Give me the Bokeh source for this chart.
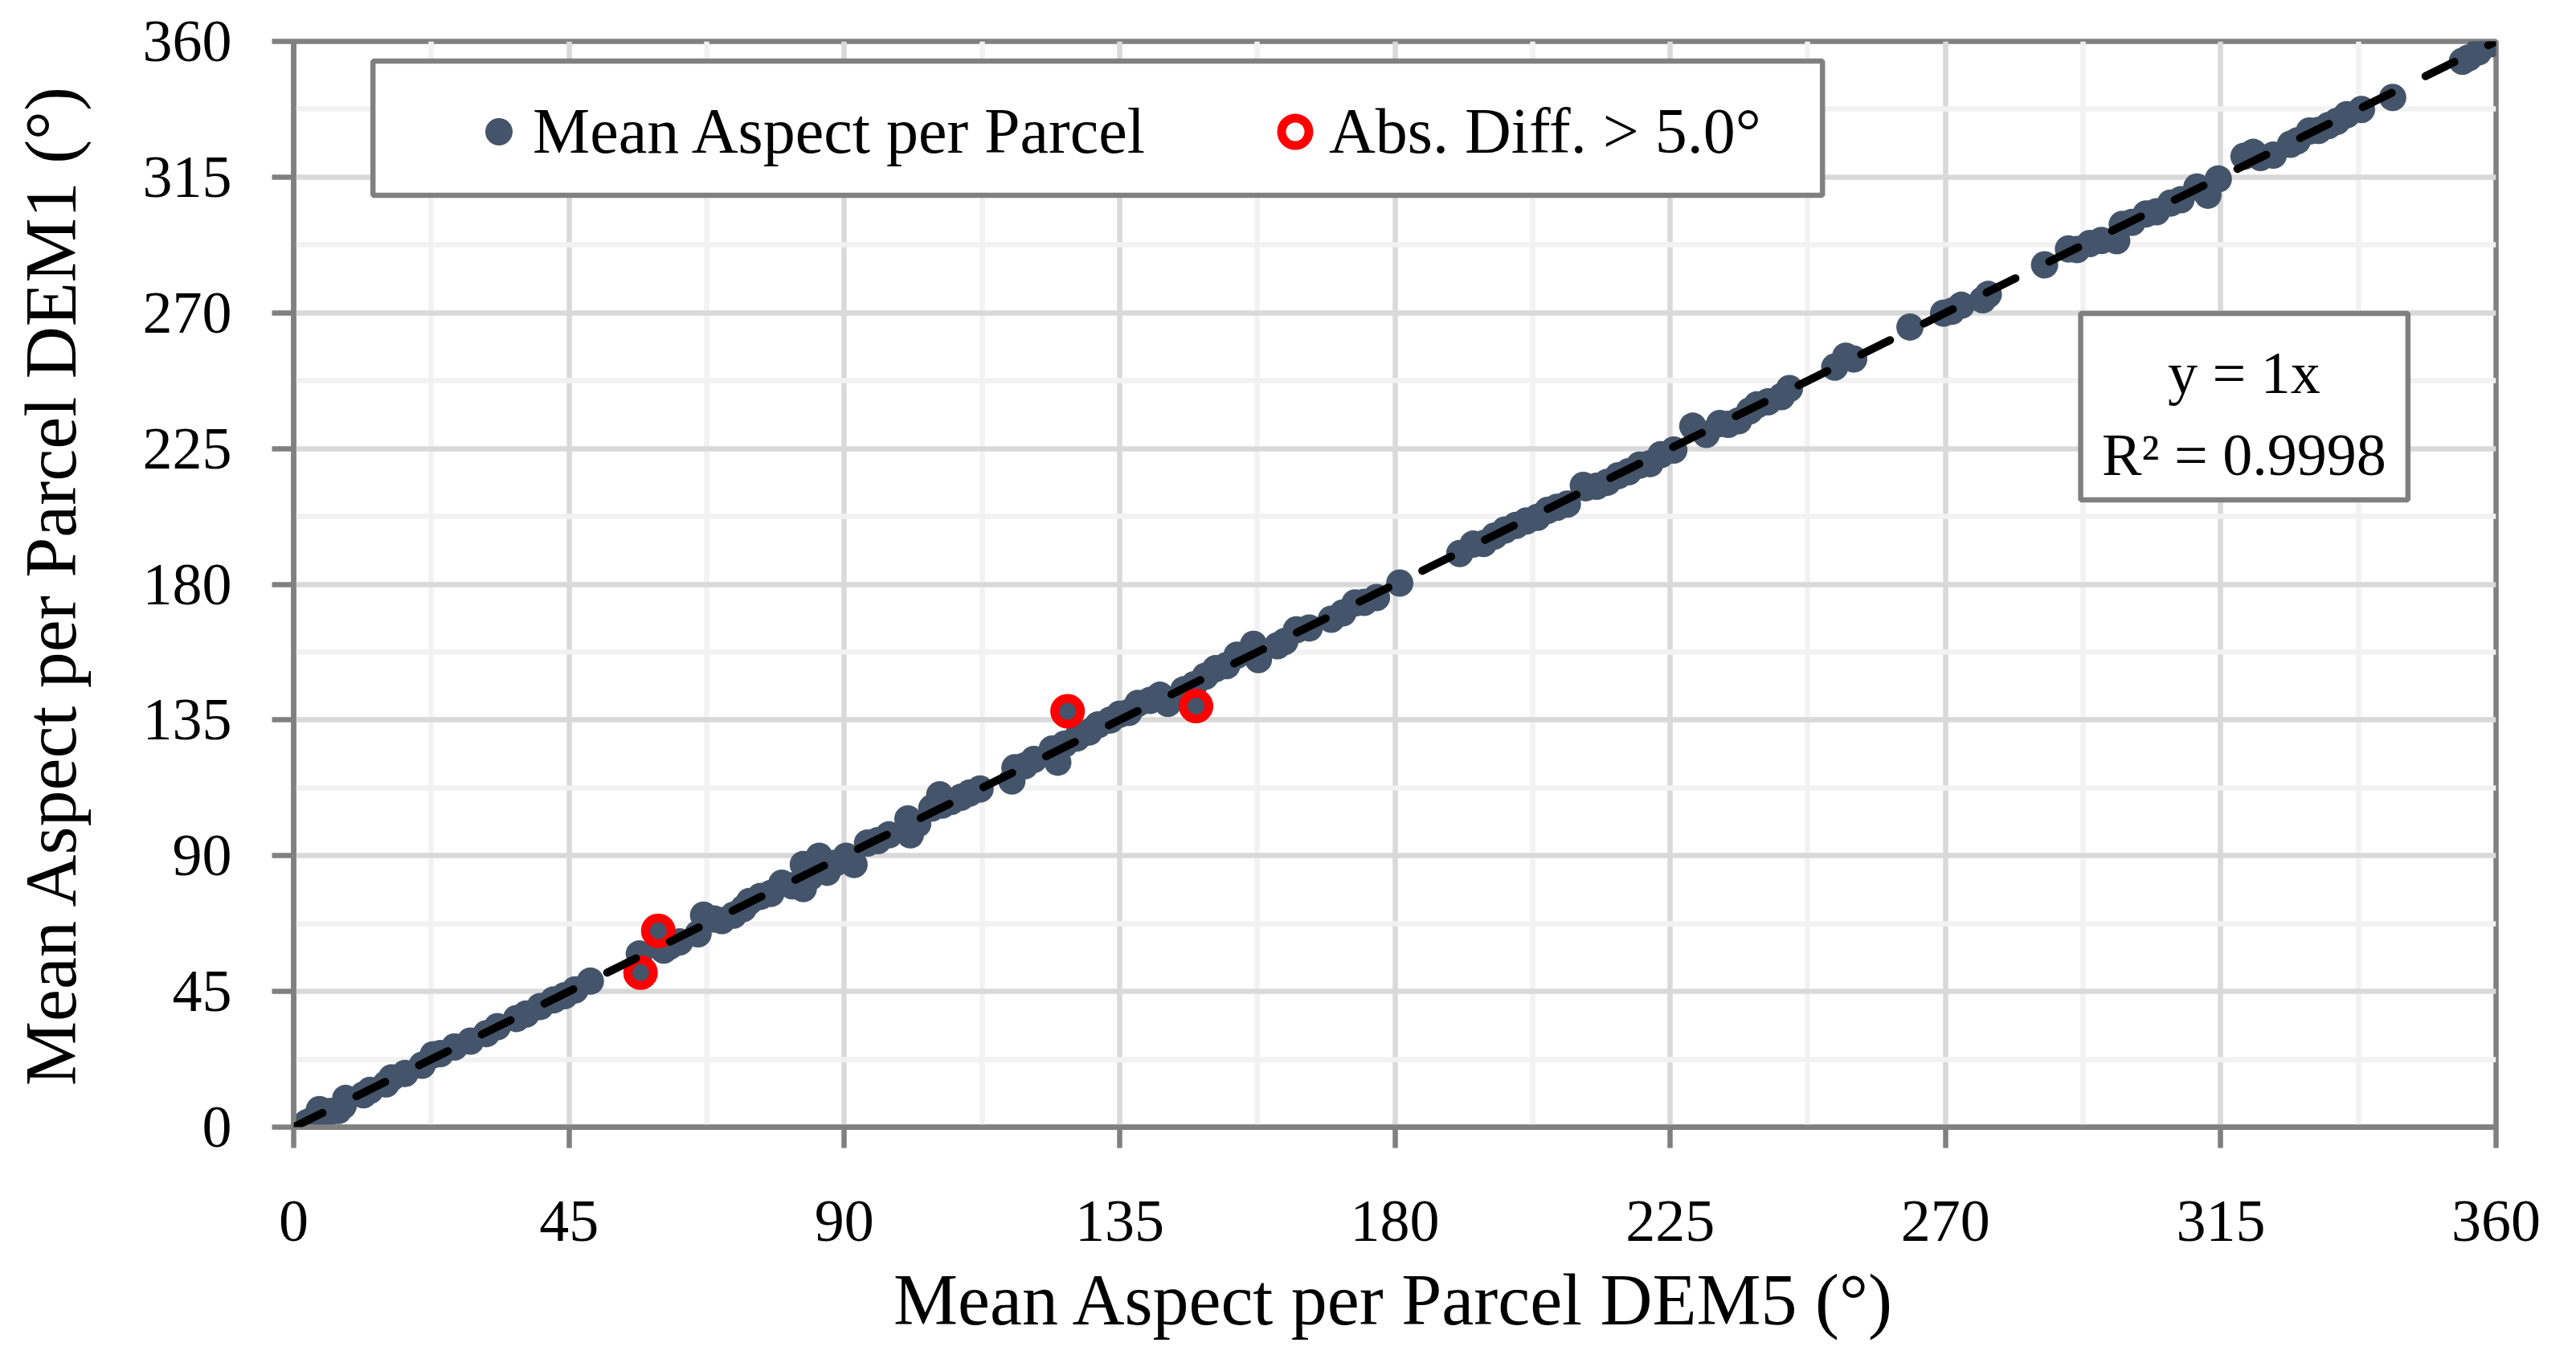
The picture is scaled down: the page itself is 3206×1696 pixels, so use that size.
from bokeh.plotting import figure
from bokeh.models import (Range1d, FixedTicker, Slope, BoxAnnotation, Label,
                          Legend, LegendItem, ColumnDataSource)
from bokeh.embed import file_html
from bokeh.resources import INLINE

# ---------------- data ----------------
dem5 = [2.2, 3.5, 4.2, 6.0, 7.3, 8.1, 8.5, 11.4, 12.5, 15.1, 16.0, 18.2, 21.0, 22.8,
        24.0, 26.3, 28.9, 31.5, 33.3, 36.4, 38.0, 40.3, 42.5, 44.3, 46.0, 48.5,
        56.7, 56.5, 59.6, 60.5, 61.5, 63.1, 66.1, 67.0, 68.7, 70.0, 71.9, 73.5,
        74.5, 76.3, 78.0, 79.8, 81.5, 83.3, 83.3, 84.5, 85.9, 87.2, 88.5, 90.3,
        91.6, 93.8, 95.5, 97.3, 100.4, 100.8, 102.0, 104.3, 105.6,
        106.0, 107.5, 109.1, 110.5, 112.2, 117.4, 117.9, 119.5, 121.0, 124.9,
        124.0, 126.5, 126.0, 128.0, 130.0, 131.5, 133.5, 135.0, 136.5, 138.0,
        140.0, 141.6, 142.9, 147.5, 145.5, 147.2, 149.0, 150.7, 152.5, 154.2,
        156.9, 157.7,
        160.8, 162.0, 163.9, 166.0, 169.6, 171.5, 173.5, 175.0, 177.0, 180.8,
        190.6, 192.8, 194.5, 196.3, 198.0, 199.8, 201.5, 203.3, 205.0, 206.5,
        208.2, 210.8,
        211.2, 213.0, 214.7, 216.5, 218.2, 220.0, 221.7, 223.5, 225.6, 228.7,
        230.9, 233.1, 234.5, 236.2, 238.0, 239.2, 241.0, 243.2, 244.5, 251.9,
        253.7, 255.0, 264.2,
        269.7, 271.0, 272.6, 276.1, 277.0, 286.2, 290.1, 291.5, 293.6, 295.5,
        298.0, 298.9, 300.5, 302.8, 304.5, 306.8, 308.5, 311.1, 312.9, 314.6,
        318.8, 320.3, 321.5, 323.6, 326.4, 327.5, 329.5, 331.0, 332.6, 334.0,
        335.6, 338.0, 343.1, 354.5, 355.5, 357.1, 359.1]
dem1 = [1.5, 3.0, 5.8, 5.2, 5.5, 7.1, 9.5, 10.7, 12.2, 14.3, 16.3, 17.8, 20.5, 24.0,
        24.4, 26.6, 28.5, 31.0, 33.3, 36.0, 37.5, 40.0, 42.2, 43.6, 45.5, 48.4,
        51.2, 57.4, 65.1, 58.7, 60.0, 61.4, 64.1, 70.3, 69.0, 68.5, 70.3, 72.5,
        74.8, 76.5, 77.5, 80.9, 80.0, 87.1, 79.1, 83.0, 89.8, 84.5, 87.5, 89.8,
        87.1, 94.2, 95.0, 96.9, 102.2, 96.9, 100.5, 105.8, 110.2,
        106.8, 108.0, 109.4, 110.8, 112.1, 114.8, 119.2, 119.8, 121.9, 121.0,
        125.4, 137.9, 127.0, 129.0, 131.0, 133.4, 135.0, 136.9, 137.5, 140.5,
        141.5, 143.2, 140.5, 139.6, 145.0, 146.7, 149.5, 152.0, 153.0, 156.5,
        160.1, 155.0,
        159.6, 161.0, 164.9, 165.5, 168.4, 170.5, 173.8, 174.0, 175.6, 180.4,
        190.2, 193.3, 193.5, 196.0, 198.0, 199.5, 201.0, 202.2, 204.5, 205.5,
        206.6, 212.8,
        212.0, 212.5, 213.8, 216.0, 217.3, 219.5, 220.0, 223.0, 224.5, 232.4,
        229.7, 233.3, 233.0, 234.2, 237.5, 239.5, 240.5, 242.2, 244.9, 252.0,
        255.6, 254.7, 265.3,
        269.9, 270.5, 272.5, 274.3, 276.1, 285.9, 291.2, 291.0, 293.0, 294.0,
        293.9, 299.3, 300.0, 302.8, 303.5, 306.4, 307.5, 311.7, 309.0, 314.4,
        321.9, 323.2, 321.5, 322.3, 325.9, 327.0, 330.3, 330.5, 332.1, 333.5,
        335.7, 337.4, 341.4, 353.4, 354.5, 356.5, 359.2]

diff_threshold = 5.0
trend_slope = 1.0
trend_intercept = 0.0
r_squared_text = "R\u00b2 = 0.9998"
equation_text = "y = 1x"

axis_ticks = [0, 45, 90, 135, 180, 225, 270, 315, 360]
minor_axis_ticks = [22.5, 67.5, 112.5, 157.5, 202.5, 247.5, 292.5, 337.5]

series_label = "Mean Aspect per Parcel"
outlier_label = "Abs. Diff. > 5.0\u00b0"
x_title = "Mean Aspect per Parcel DEM5 (\u00b0)"
y_title = "Mean Aspect per Parcel DEM1 (\u00b0)"

out_x = [a for a, b in zip(dem5, dem1) if abs(a - b) > diff_threshold]
out_y = [b for a, b in zip(dem5, dem1) if abs(a - b) > diff_threshold]

# ---------------- styling ----------------
FONT = "Liberation Serif"
GRAY = "#808080"
PT_COLOR = "#44546a"
LW = 6.5

p = figure(frame_width=2741, frame_height=1351,
           x_range=Range1d(0, 360), y_range=Range1d(0, 360),
           output_backend="svg", toolbar_location=None,
           min_border_left=365, min_border_right=84,
           min_border_top=51, min_border_bottom=270)
p.background_fill_color = "white"
p.border_fill_color = "white"
p.outline_line_color = GRAY
p.outline_line_width = LW

ticker = FixedTicker(ticks=axis_ticks, minor_ticks=minor_axis_ticks)
for ax in (p.xaxis[0], p.yaxis[0]):
    ax.ticker = ticker
    ax.axis_line_color = GRAY
    ax.axis_line_width = LW
    ax.major_tick_line_color = GRAY
    ax.major_tick_line_width = LW
    ax.major_tick_in = 0
    ax.minor_tick_line_color = None
    ax.major_label_text_font = FONT
    ax.major_label_text_font_size = "74px"
    ax.major_label_text_color = "black"
    ax.axis_label_text_font = FONT
    ax.axis_label_text_font_style = "normal"
    ax.axis_label_text_font_size = "90px"
    ax.axis_label_text_color = "black"

p.xaxis[0].major_tick_out = 26
p.xaxis[0].major_label_standoff = 66
p.xaxis[0].axis_label = x_title
p.xaxis[0].axis_label_standoff = 21
p.yaxis[0].major_tick_out = 27
p.yaxis[0].major_label_standoff = 50
p.yaxis[0].axis_label = y_title
p.yaxis[0].axis_label_standoff = 62

for g in (p.xgrid[0], p.ygrid[0]):
    g.ticker = ticker
    g.grid_line_color = "#d9d9d9"
    g.grid_line_width = LW
    g.minor_grid_line_color = "#f2f2f2"
    g.minor_grid_line_width = LW

# data
src = ColumnDataSource(dict(x=dem5, y=dem1))
r_pts = p.scatter("x", "y", source=src, size=34, fill_color=PT_COLOR,
                  line_color=None)
r_out = p.scatter(out_x, out_y, size=32, fill_color=None, line_color="#ff0000",
                  line_width=11)

p.add_layout(Slope(gradient=trend_slope, y_intercept=trend_intercept,
                   line_color="black", line_width=10, line_dash="40 47",
                   line_cap="round"))

# legend frame
p.add_layout(BoxAnnotation(left=12.96, right=249.9, top=353.5, bottom=309.0,
                           fill_color="white", fill_alpha=1.0,
                           line_color=GRAY, line_width=LW, line_alpha=1.0))
legend = Legend(items=[LegendItem(label=series_label, renderers=[r_pts]),
                       LegendItem(label=outlier_label, renderers=[r_out])],
                orientation="horizontal", location=(213, 1193),
                padding=0, margin=0, border_line_color=None,
                background_fill_alpha=0, glyph_width=85, glyph_height=85,
                label_standoff=0, spacing=116, label_width=790,
                label_text_font=FONT, label_text_font_size="80px",
                label_text_color="black")
p.add_layout(legend)

# equation box
p.add_layout(BoxAnnotation(left=292.1, right=345.6, top=269.8, bottom=208.0,
                           fill_color="white", fill_alpha=1.0,
                           line_color=GRAY, line_width=LW, line_alpha=1.0))
p.add_layout(Label(x=318.8, y=250.1, text=equation_text, text_align="center",
                   text_baseline="alphabetic", text_font=FONT,
                   text_font_size="74px", text_color="black"))
p.add_layout(Label(x=318.8, y=222.9, text=r_squared_text, text_align="center",
                   text_baseline="alphabetic", text_font=FONT,
                   text_font_size="74px", text_color="black"))

open("out.html", "w").write(file_html(p, INLINE))
